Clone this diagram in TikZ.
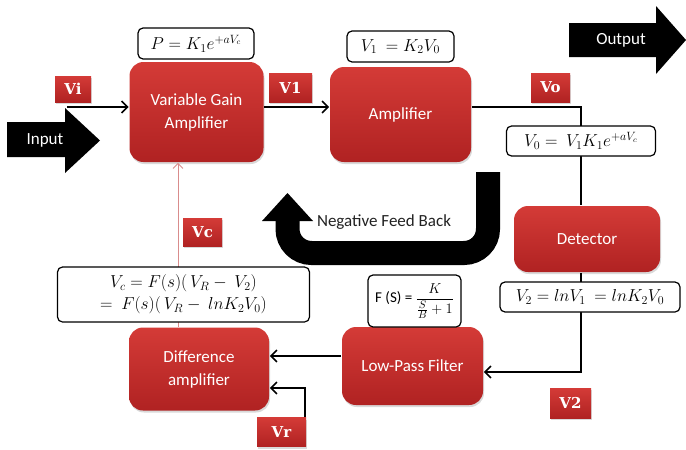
\documentclass[tikz,border=0pt]{standalone}
\usepackage{fontspec}
\setmainfont{Carlito}
\newfontfamily\lblfont{DejaVu Serif}
\usetikzlibrary{arrows.meta,shadows}
\definecolor{boxtop}{HTML}{D43B37}
\definecolor{boxbot}{HTML}{B02222}
\definecolor{ctrlred}{HTML}{D98C8C}
\definecolor{fbtext}{HTML}{222222}
\begin{document}
\begin{tikzpicture}[x=1pt,y=-1pt,line width=1.6pt,
  block/.style={rounded corners=14pt, top color=boxtop, bottom color=boxbot, text=white,
    font=\fontsize{17}{23}\selectfont, align=center,
    drop shadow={opacity=0.3, shadow xshift=1pt, shadow yshift=-2pt}},
  tag/.style={top color=boxtop, bottom color=boxbot, text=white, inner sep=0pt,
    font=\lblfont\bfseries\fontsize{15}{15}\selectfont,
    drop shadow={opacity=0.3, shadow xshift=1pt, shadow yshift=-2pt}},
  eqbox/.style={draw, fill=white, rounded corners=5pt, line width=1.2pt, inner sep=1pt,
    align=center, font=\fontsize{17}{22}\selectfont},
  wire/.style={-{Straight Barb[length=6pt,width=12pt,line width=1.6pt]}},
  ctrl/.style={draw=ctrlred, line width=0.9pt, -{Straight Barb[length=5pt,width=10pt,line width=0.9pt]}}]
  \useasboundingbox (0,0) rectangle (686,450);
  % blocks
  \node[block, minimum width=134pt, minimum height=100pt] (vga) at (196.5,112) {Variable Gain\\Amplifier};
  \node[block, minimum width=141pt, minimum height=95pt] (amp) at (400.5,114.5) {Amplifier};
  \node[block, minimum width=146pt, minimum height=66pt] (det) at (587,239) {Detector};
  \node[block, minimum width=141pt, minimum height=78pt] (lpf) at (412.5,366) {Low-Pass Filter};
  \node[block, minimum width=140pt, minimum height=83pt] (diff) at (199,369) {Difference\\amplifier};
  % input and output arrows
  \fill (7,122) -- (65,122) -- (65,108) -- (100,140.5) -- (65,173) -- (65,157) -- (7,157) -- cycle;
  \node[text=white, font=\fontsize{17}{20}\selectfont] (input) at (45,140) {Input};
  \fill (569,23) -- (656,23) -- (656,6) -- (686,40) -- (656,74) -- (656,57) -- (569,57) -- cycle;
  \node[text=white, font=\fontsize{17}{20}\selectfont] (output) at (621,40) {Output};
  % negative feedback
  \draw[line width=24pt, rounded corners=24pt] (488,172) -- (488,253) -- (287.5,253) -- (287.5,221);
  \fill (262,221) -- (313,221) -- (287.5,193) -- cycle;
  \node[text=fbtext, font=\fontsize{17}{20}\selectfont] (fb) at (384,222) {Negative Feed Back};
  % signal path
  \coordinate (in) at (67,107);
  \coordinate (out) at (581,107);
  \coordinate (lp) at (581,372);
  \coordinate (lo) at (300,356);
  \coordinate (rin) at (305,437);
  \coordinate (rv) at (305,388);
  \coordinate (cv) at (178,300);
  \draw[wire] (in) -- (in -| vga.west);
  \draw[wire] (in -| vga.east) -- (in -| amp.west);
  \draw (in -| amp.east) -- (out) -- (out |- det.north);
  \draw[wire] (out |- det.south) -- (lp) -- (lp -| lpf.east);
  \draw[wire] (lo -| lpf.west) -- (lo -| diff.east);
  \draw[wire] (rin) -- (rv) -- (rv -| diff.east);
  \draw[ctrl] (cv |- diff.north) -- (cv |- vga.south);
  % equations
  \node[eqbox, minimum width=116pt, minimum height=31pt] (eqp) at (196,43.5) {$P = K_1e^{+aV_c}$};
  \node[eqbox, minimum width=107pt, minimum height=31pt] (eqone) at (400.5,46.5) {$V_1\ = K_2V_0$};
  \node[eqbox, minimum width=149pt, minimum height=30pt] (eqzero) at (581,141) {$V_0 =\ V_1K_1e^{+aV_c}$};
  \node[eqbox, minimum width=180pt, minimum height=30pt] (eqtwo) at (590,297) {$V_2 = lnV_1\ = lnK_2V_0$};
  \node[eqbox, minimum width=93pt, minimum height=52pt, font=\fontsize{15}{18}\selectfont] (eqf) at (414.5,301)
    {F (S) = $\displaystyle\frac{K}{\frac{S}{B}+1}$};
  \node[eqbox, minimum width=252pt, minimum height=55pt] (eqc) at (183.5,294.5)
    {$V_c = F(s)(\,V_R -\ V_2)$\\$=\ F(s)(\,V_R -\ lnK_2V_0)$};
  % labels
  \node[tag, minimum width=36pt, minimum height=26pt] (vi) at (73,89) {Vi};
  \node[tag, minimum width=43pt, minimum height=29pt] (vone) at (290.5,87.5) {V1};
  \node[tag, minimum width=39pt, minimum height=29pt] (vo) at (550.5,87.5) {Vo};
  \node[tag, minimum width=39pt, minimum height=28pt] (vc) at (202.5,232) {Vc};
  \node[tag, minimum width=41pt, minimum height=30pt] (vtwo) at (570.5,403) {V2};
  \node[tag, minimum width=49pt, minimum height=29pt] (vr) at (281.5,432) {Vr};
\end{tikzpicture}
\end{document}
